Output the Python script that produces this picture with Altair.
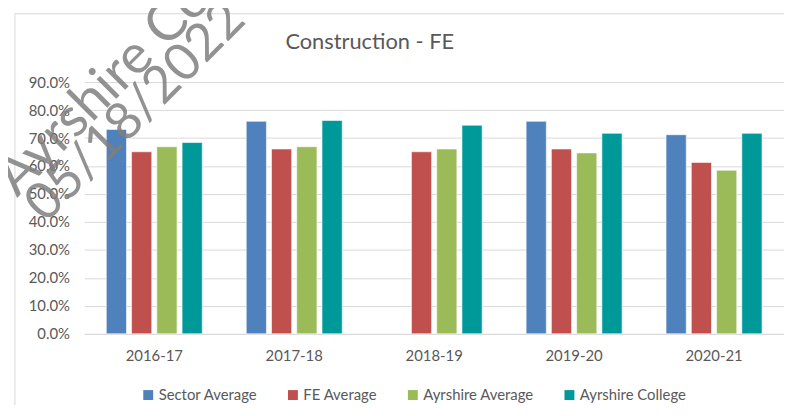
import altair as alt
import pandas as pd

years = ["2016-17", "2017-18", "2018-19", "2019-20", "2020-21"]
series_names = ["Sector Average", "FE Average", "Ayrshire Average", "Ayrshire College"]
sector_avg = [0.731, 0.760, None, 0.760, 0.712]
fe_avg = [0.651, 0.661, 0.651, 0.661, 0.613]
ayrshire_avg = [0.669, 0.669, 0.661, 0.647, 0.585]
ayrshire_college = [0.684, 0.763, 0.746, 0.717, 0.717]
colors = ["#4F81BD", "#C0504D", "#9BBB59", "#009999"]
title_text = "Construction - FE"
watermark_lines = ["Ayrshire College", "05/18/2022 13:"]

rows = []
for name, vals in zip(series_names, [sector_avg, fe_avg, ayrshire_avg, ayrshire_college]):
    for y, v in zip(years, vals):
        if v is not None:
            rows.append({"Year": y, "Series": name, "Value": v})
df = pd.DataFrame(rows)

FONT = "Lato"
GREY = "#595959"

bars = alt.Chart(df).mark_bar(stroke="#ffffff", strokeWidth=1, strokeOpacity=0.6).encode(
    x=alt.X("Year:N", sort=years, title=None,
            scale=alt.Scale(paddingInner=0.278, paddingOuter=0.139),
            axis=alt.Axis(labelAngle=0, ticks=False, tickSize=0, labelPadding=15,
                          domainColor="#d9d9d9", labelFont=FONT, labelFontSize=15,
                          labelColor=GREY)),
    xOffset=alt.XOffset("Series:N", sort=series_names,
                        scale=alt.Scale(paddingInner=0.2, paddingOuter=0.1)),
    y=alt.Y("Value:Q", title=None,
            scale=alt.Scale(domain=[0, 0.9], nice=False),
            axis=alt.Axis(format=".1%", values=[i / 10 for i in range(10)], ticks=False,
                          tickSize=0, domain=False, labelPadding=15, gridColor="#d9d9d9",
                          labelFont=FONT, labelFontSize=15, labelColor=GREY)),
    color=alt.Color("Series:N", sort=series_names,
                    scale=alt.Scale(domain=series_names, range=colors),
                    legend=alt.Legend(title=None, orient="none", direction="horizontal",
                                      legendX=57, legendY=308, symbolType="square",
                                      symbolSize=100, symbolStrokeWidth=0, labelOffset=3,
                                      columnPadding=28, padding=0, labelFont=FONT,
                                      labelFontSize=15, labelColor=GREY)),
)

one = pd.DataFrame({"k": [0]})

frame_left = alt.Chart(one).mark_rule(color="#d9d9d9", strokeWidth=1).encode(
    x=alt.value(-70), y=alt.value(-69), y2=alt.value(400))
frame_top = alt.Chart(one).mark_rule(color="#d9d9d9", strokeWidth=1).encode(
    x=alt.value(-70), x2=alt.value(720), y=alt.value(-69))

title = alt.Chart(one).mark_text(text=title_text, font=FONT, fontSize=22, color=GREY,
                                 align="center", baseline="middle").encode(
    x=alt.value(288), y=alt.value(-40))

wm1 = alt.Chart(one).mark_text(text=watermark_lines[0], font=FONT, fontSize=55,
                               color="#7f7f7f", opacity=0.85, angle=315,
                               align="left", baseline="alphabetic").encode(
    x=alt.value(-68), y=alt.value(117))
wm2 = alt.Chart(one).mark_text(text=watermark_lines[1], font=FONT, fontSize=52,
                               color="#7f7f7f", opacity=0.85, angle=315,
                               align="left", baseline="alphabetic").encode(
    x=alt.value(-39), y=alt.value(143))

chart = alt.layer(frame_left, frame_top, bars, title, wm1, wm2).properties(
    width=706, height=254,
    autosize=alt.AutoSizeParams(type="none"),
    padding={"left": 77, "top": 73, "right": 0, "bottom": 70},
).configure_view(stroke=None).configure_axis(gridWidth=1)

chart.save("out.html", embed_options={"renderer": "svg", "actions": False})
